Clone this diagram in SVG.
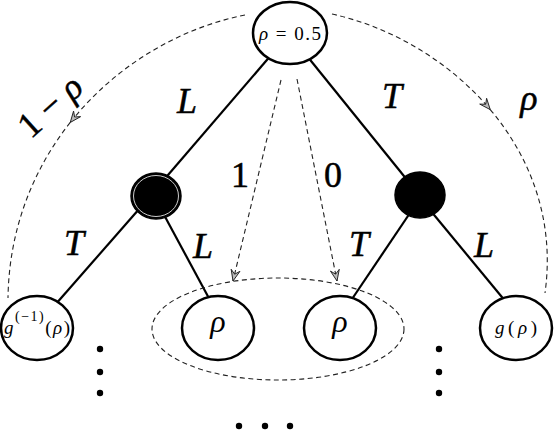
<svg xmlns="http://www.w3.org/2000/svg" width="554" height="430" viewBox="0 0 554 430">
<style>
.node{fill:#fff;stroke:#000;stroke-width:2.5}
.blk{fill:#000;stroke:#000;stroke-width:1.5}
.edge{stroke:#000;stroke-width:2.2;fill:none}
.dash{stroke:#222;stroke-width:1.1;fill:none;stroke-dasharray:5,3.5}
.m{font-family:'Liberation Serif','Times New Roman','DejaVu Serif',serif;font-style:italic;fill:#000}
.r{font-family:'Liberation Serif','Times New Roman','DejaVu Serif',serif;font-style:normal;fill:#000}
.big{font-size:36px;stroke:#000;stroke-width:0.5}
</style>
<defs>
<marker id="ah" markerUnits="userSpaceOnUse" viewBox="-12 -6 14 12" markerWidth="14" markerHeight="12" refX="0" refY="0" orient="auto" overflow="visible">
<path d="M-11,-4.5 L0,0 L-11,4.5 L-7,0 Z" fill="#bbb" stroke="#222" stroke-width="0.9" stroke-linejoin="miter"/>
</marker>
</defs>
<g id="connectors">
<path class="edge" d="M272,54 L162,182"/>
<path class="edge" d="M307,56 L412,186"/>
<path class="edge" d="M140,208 L55,305"/>
<path class="edge" d="M163,213 L211,302"/>
<path class="edge" d="M412,210 L350,302"/>
<path class="edge" d="M430,210 L506,302"/>
<path class="dash" d="M245,15 C177.5,28.5 114.37,66.79 70.26,122.46" marker-end="url(#ah)"/>
<path class="dash" d="M70.26,122.46 C32.69,169.88 8.92,229.92 8,298"/>
<path class="dash" d="M332,14 C391,27 449.25,61 490.25,109.6" marker-end="url(#ah)"/>
<path class="dash" d="M490.25,109.6 C531.25,158.25 555,221.5 545,293"/>
<path class="dash" d="M281,80 L233,281" marker-end="url(#ah)"/>
<path class="dash" d="M297,79 L337,281" marker-end="url(#ah)"/>
<ellipse class="dash" cx="278" cy="329" rx="126" ry="51" stroke-dasharray="6,4"/>
</g>
<g id="edge-labels">
<text class="m big" x="187" y="113" text-anchor="middle">L</text>
<text class="m big" x="392" y="108" text-anchor="middle">T</text>
<text class="m big" x="74" y="255" text-anchor="middle">T</text>
<text class="m big" x="203" y="258" text-anchor="middle">L</text>
<text class="m big" x="359" y="256" text-anchor="middle">T</text>
<text class="m big" x="484" y="257" text-anchor="middle">L</text>
<text class="r big" x="240" y="187" text-anchor="middle">1</text>
<text class="r big" x="333" y="187" text-anchor="middle">0</text>
<text class="m big" x="529" y="110" text-anchor="middle">ρ</text>
<text class="r big" transform="translate(50,106) rotate(-42)" x="0" y="12" text-anchor="middle">1 − <tspan class="m">ρ</tspan></text>
</g>
<g id="root">
<ellipse class="node" cx="290" cy="33" rx="37" ry="31"/>
<text class="r" x="290" y="40" font-size="19" text-anchor="middle" textLength="62" lengthAdjust="spacing"><tspan class="m">ρ</tspan> = 0.5</text>
</g>
<g id="left-black">
<ellipse class="blk" cx="156" cy="196" rx="25" ry="23"/>
<ellipse cx="156" cy="196" rx="22.5" ry="20.5" fill="none" stroke="#fff" stroke-width="0.8"/>
</g>
<g id="right-black">
<ellipse class="blk" cx="420" cy="195" rx="25" ry="23"/>
</g>
<g id="leaf-ginv">
<ellipse class="node" cx="37" cy="328" rx="36" ry="32"/>
<text class="m" x="37" y="334" font-size="19" text-anchor="middle" textLength="66" lengthAdjust="spacing">g<tspan class="r" font-size="14" dy="-13">(−1)</tspan><tspan class="r" dy="13">(</tspan>ρ<tspan class="r">)</tspan></text>
</g>
<g id="leaf-rho1">
<ellipse class="node" cx="218" cy="328" rx="36" ry="32"/>
<text class="m" x="218" y="332" font-size="32" text-anchor="middle">ρ</text>
</g>
<g id="leaf-rho2">
<ellipse class="node" cx="340" cy="328" rx="36" ry="32"/>
<text class="m" x="340" y="332" font-size="32" text-anchor="middle">ρ</text>
</g>
<g id="leaf-g">
<ellipse class="node" cx="516" cy="328" rx="36" ry="32"/>
<text class="m" x="516" y="334" font-size="19" text-anchor="middle" textLength="42" lengthAdjust="spacing">g<tspan class="r">(</tspan>ρ<tspan class="r">)</tspan></text>
</g>
<g id="dots">
<circle cx="100" cy="349" r="3.2"/><circle cx="100" cy="372" r="3.2"/><circle cx="100" cy="393" r="3.2"/>
<circle cx="439" cy="349" r="3.2"/><circle cx="439" cy="372" r="3.2"/><circle cx="439" cy="393" r="3.2"/>
<circle cx="239" cy="426" r="3.2"/><circle cx="265" cy="426" r="3.2"/><circle cx="290" cy="426" r="3.2"/>
</g>
</svg>
